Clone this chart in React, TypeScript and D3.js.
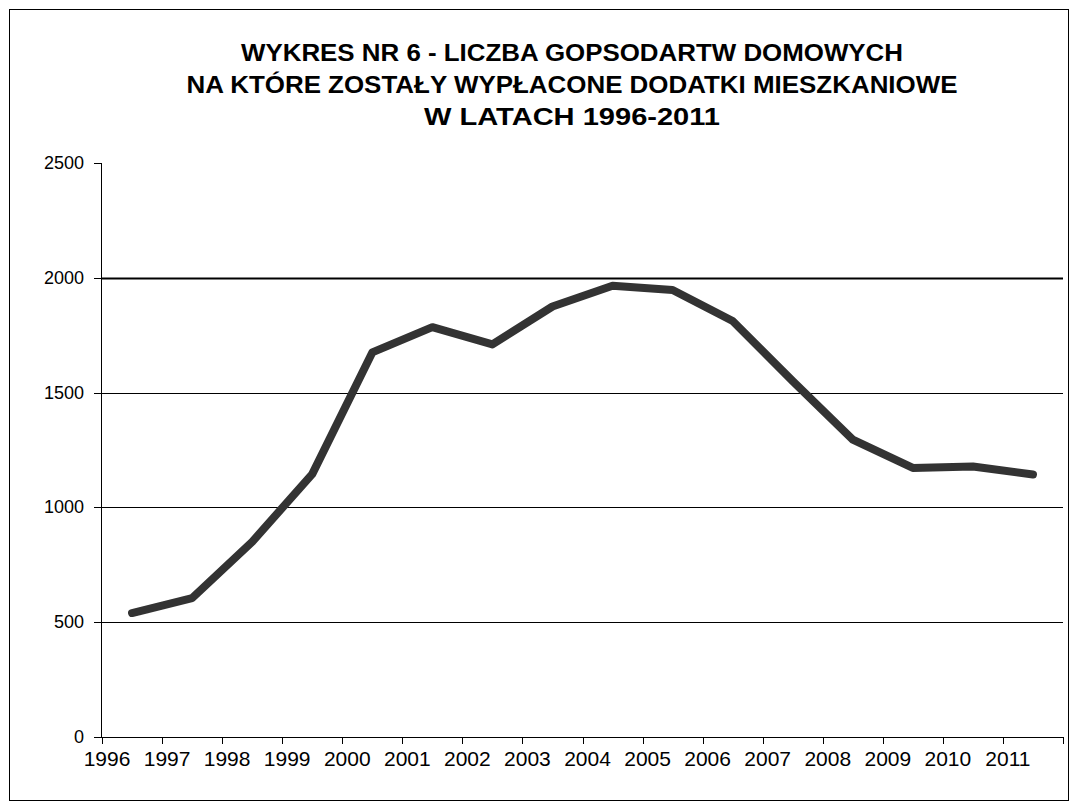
import React, { useEffect, useRef } from 'react';
import * as d3 from 'd3';

// DATA
const years = ['1996', '1997', '1998', '1999', '2000', '2001', '2002', '2003',
  '2004', '2005', '2006', '2007', '2008', '2009', '2010', '2011'];
const households = [540, 605, 850, 1145, 1675, 1785, 1710, 1875,
  1965, 1947, 1812, 1550, 1295, 1172, 1178, 1143];
const yTicks = [0, 500, 1000, 1500, 2000, 2500];
const titleLines = [
  'WYKRES NR 6 - LICZBA GOPSODARTW DOMOWYCH',
  'NA KTÓRE ZOSTAŁY WYPŁACONE DODATKI MIESZKANIOWE',
  'W LATACH 1996-2011',
];

export default function App() {
  const ref = useRef<SVGSVGElement>(null);

  useEffect(() => {
    // SETTINGS
    const width = 1077;
    const height = 811;
    const left = 102;
    const right = 1063;
    const top = 163;
    const bottom = 737;
    const font = '"Liberation Sans", Arial, sans-serif';
    const lineColor = '#333333';

    const svg = d3.select(ref.current);
    svg.selectAll('*').remove();
    svg.attr('width', width).attr('height', height);

    svg.append('rect')
      .attr('width', width).attr('height', height)
      .attr('fill', '#fff');

    // outer frame
    svg.append('rect')
      .attr('x', 9.5).attr('y', 9.5)
      .attr('width', 1059).attr('height', 791)
      .attr('fill', 'none')
      .attr('stroke', '#000')
      .attr('stroke-width', 1);

    // TITLE
    const titleWidths = [662, 771, 296];
    svg.append('g').selectAll('text')
      .data(titleLines)
      .enter()
      .append('text')
        .attr('x', 572)
        .attr('y', (d, i) => 61 + i * 32)
        .attr('text-anchor', 'middle')
        .attr('font-family', font)
        .attr('font-weight', 'bold')
        .attr('font-size', 24)
        .attr('textLength', (d, i) => titleWidths[i])
        .attr('lengthAdjust', 'spacingAndGlyphs')
        .attr('fill', '#000')
        .text(d => d);

    // SCALES
    const x = d3.scaleBand<string>().domain(years).range([left, right]).padding(0);
    const y = d3.scaleLinear().domain([0, 2500]).range([bottom, top]);

    // GRIDLINES
    svg.append('g').selectAll('line')
      .data(yTicks.filter(t => t > 0 && t < 2500))
      .enter()
      .append('line')
        .attr('x1', left).attr('x2', right)
        .attr('y1', d => Math.round(y(d)) + 0.5)
        .attr('y2', d => Math.round(y(d)) + 0.5)
        .attr('stroke', '#000')
        .attr('stroke-width', d => d === 2000 ? 2 : 1);

    // Y AXIS
    const yAxis = svg.append('g');
    yAxis.append('line')
      .attr('x1', left - 0.5).attr('x2', left - 0.5)
      .attr('y1', top).attr('y2', bottom)
      .attr('stroke', '#000');
    yAxis.selectAll('line.tick')
      .data(yTicks)
      .enter()
      .append('line')
        .attr('class', 'tick')
        .attr('x1', left - 8).attr('x2', left)
        .attr('y1', d => Math.round(y(d)) + 0.5)
        .attr('y2', d => Math.round(y(d)) + 0.5)
        .attr('stroke', '#000');
    yAxis.selectAll('text')
      .data(yTicks)
      .enter()
      .append('text')
        .attr('x', 84)
        .attr('y', d => y(d) + 6)
        .attr('text-anchor', 'end')
        .attr('font-family', font)
        .attr('font-size', 18)
        .attr('fill', '#000')
        .text(d => d);

    // X AXIS
    const xAxis = svg.append('g');
    xAxis.append('line')
      .attr('x1', left - 1).attr('x2', right)
      .attr('y1', bottom + 0.5).attr('y2', bottom + 0.5)
      .attr('stroke', '#000');
    const tickPos = years.map(d => x(d) as number).concat([right]);
    xAxis.selectAll('line.tick')
      .data(tickPos)
      .enter()
      .append('line')
        .attr('class', 'tick')
        .attr('x1', d => Math.round(d) + 0.5).attr('x2', d => Math.round(d) + 0.5)
        .attr('y1', bottom).attr('y2', bottom + 7)
        .attr('stroke', '#000');
    xAxis.selectAll('text')
      .data(years)
      .enter()
      .append('text')
        .attr('x', d => (x(d) as number) + 5)
        .attr('y', bottom + 29)
        .attr('text-anchor', 'middle')
        .attr('font-family', font)
        .attr('font-size', 21)
        .attr('fill', '#000')
        .text(d => d);

    // LINE
    const line = d3.line<number>()
      .x((d, i) => (x(years[i]) as number) + x.bandwidth() / 2)
      .y(d => y(d));

    svg.append('path')
      .datum(households)
      .attr('fill', 'none')
      .attr('stroke', lineColor)
      .attr('stroke-width', 8)
      .attr('stroke-linejoin', 'round')
      .attr('stroke-linecap', 'round')
      .attr('d', line);
  }, []);

  return (
    <svg ref={ref} style={{ position: 'absolute', left: 0, top: 0, display: 'block' }} />
  );
}
